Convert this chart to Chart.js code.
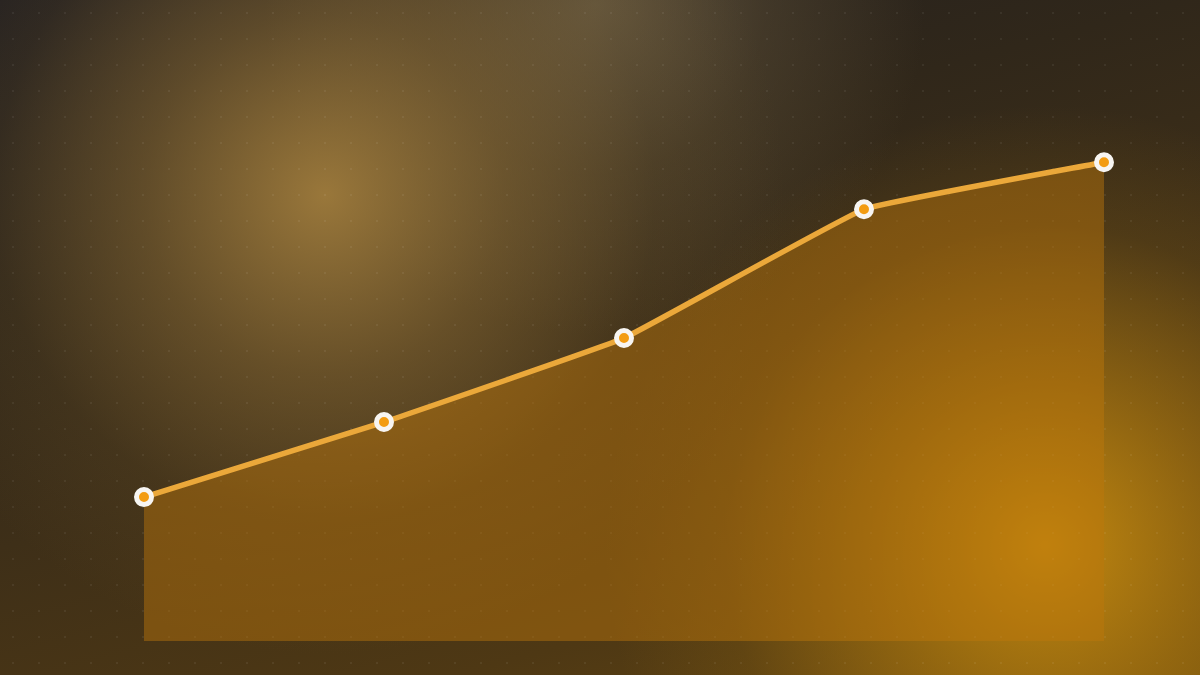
<!DOCTYPE html>
<html>
<head>
<meta charset="utf-8">
<script src="https://cdn.jsdelivr.net/npm/chart.js@4"></script>
<style>
  html, body { margin: 0; padding: 0; }
  body {
    width: 1200px; height: 675px; overflow: hidden;
    background:
      radial-gradient(circle, rgba(255,255,255,0.06) 1px, transparent 1.5px) 0 0 / 26px 26px,
      radial-gradient(circle at 325px 195px, rgba(165,128,62,0.9) 0, rgba(140,108,52,0.55) 180px, rgba(110,85,40,0.2) 330px, rgba(90,70,35,0) 460px),
      radial-gradient(circle at 595px 5px, rgba(115,100,72,0.8) 0, rgba(100,85,58,0.4) 170px, rgba(80,65,40,0) 330px),
      radial-gradient(circle at 1045px 545px, rgba(200,140,15,0.95) 0, rgba(180,125,15,0.6) 170px, rgba(150,105,15,0.2) 320px, rgba(130,90,10,0) 440px),
      linear-gradient(165deg, #201e21 0%, #30271a 32%, #3e2f18 55%, #4e3814 80%, #634610 100%);
  }
  #wrap { position: absolute; left: 0; top: 0; width: 1200px; height: 675px; }
</style>
</head>
<body>
<div id="wrap"><canvas id="chart"></canvas></div>
<script>
// values (scale 0..100, no axes shown)
const labels = ['P1', 'P2', 'P3', 'P4', 'P5'];
const values = [25.7, 39.1, 54.1, 77.1, 85.5];

const ctx = document.getElementById('chart').getContext('2d');

new Chart(ctx, {
  type: 'line',
  data: {
    labels: labels,
    datasets: [{
      data: values,
      borderColor: '#eba83a',
      borderWidth: 5.5,
      backgroundColor: 'rgba(190,120,10,0.45)',
      fill: 'start',
      tension: 0.08,
      pointRadius: 7.5,
      pointBorderWidth: 5,
      pointBorderColor: '#f7f5f2',
      pointBackgroundColor: '#f39c12',
      pointHoverRadius: 7.5
    }]
  },
  options: {
    responsive: true,
    maintainAspectRatio: false,
    animation: false,
    layout: { padding: { left: 144, right: 96, top: 81, bottom: 34 } },
    plugins: { legend: { display: false }, tooltip: { enabled: false } },
    scales: {
      x: { display: false, offset: false },
      y: { display: false, min: 0, max: 100 }
    }
  }
});
</script>
</body>
</html>
